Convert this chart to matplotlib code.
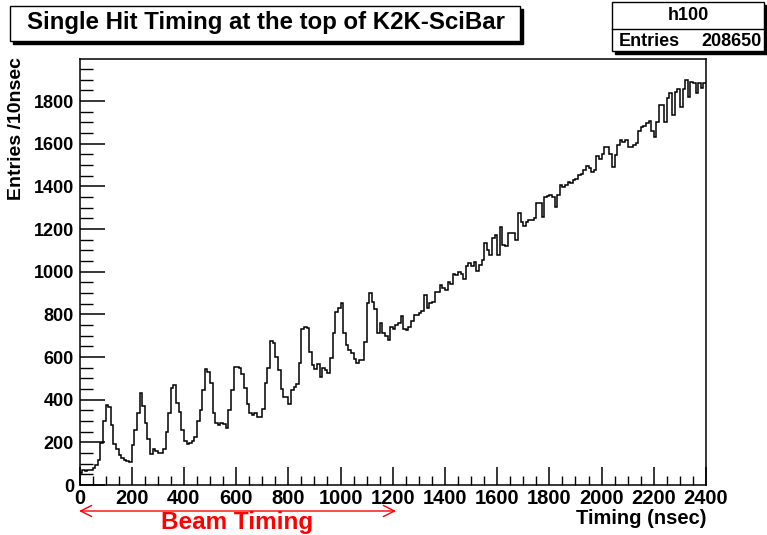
import numpy as np
import matplotlib
matplotlib.use("Agg")
import matplotlib.pyplot as plt
from matplotlib.patches import Rectangle, FancyArrowPatch

plt.rcParams['font.family'] = ['Liberation Sans', 'DejaVu Sans']
plt.rcParams['font.weight'] = 'bold'

# 10 nsec bins from 0 to 2400 nsec
bin_edges = np.arange(0, 2410, 10)
counts = [
    58, 70, 65, 70, 72, 80, 95, 115, 195, 300,
    375, 365, 280, 190, 170, 140, 125, 118, 112, 108,
    189, 257, 336, 430, 370, 290, 215, 145, 170, 160,
    150, 150, 170, 249, 336, 455, 470, 385, 340, 260,
    205, 190, 195, 205, 225, 300, 350, 445, 545, 530,
    480, 336, 290, 280, 290, 285, 265, 350, 445, 555,
    555, 550, 520, 453, 380, 336, 330, 336, 320, 318,
    355, 477, 547, 675, 665, 602, 539, 448, 414, 414,
    380, 445, 460, 472, 570, 730, 742, 735, 625, 563,
    545, 565, 508, 547, 540, 525, 594, 711, 813, 828,
    852, 711, 656, 633, 620, 589, 574, 585, 585, 672,
    852, 898, 860, 824, 711, 761, 711, 699, 678, 742,
    730, 750, 760, 790, 731, 725, 740, 770, 795, 797,
    805, 815, 891, 828, 855, 858, 907, 907, 938, 922,
    915, 950, 940, 989, 985, 997, 990, 966, 1028, 1041,
    1025, 1047, 1005, 1030, 1055, 1133, 1102, 1078, 1156, 1172,
    1078, 1211, 1125, 1120, 1180, 1180, 1180, 1148, 1274, 1235,
    1214, 1235, 1240, 1240, 1250, 1320, 1320, 1258, 1351, 1355,
    1360, 1350, 1305, 1360, 1406, 1398, 1406, 1422, 1415, 1430,
    1435, 1453, 1460, 1477, 1495, 1484, 1469, 1475, 1540, 1530,
    1550, 1583, 1583, 1550, 1492, 1547, 1594, 1617, 1610, 1617,
    1583, 1586, 1594, 1605, 1660, 1680, 1682, 1695, 1706, 1660,
    1630, 1703, 1781, 1781, 1703, 1813, 1836, 1734, 1844, 1855,
    1774, 1855, 1899, 1820, 1891, 1885, 1836, 1885, 1860, 1883,
]

title = "Single Hit Timing at the top of K2K-SciBar"
hist_name = "h100"
n_entries = "208650"

W, H = 767, 535
fig = plt.figure(figsize=(W / 100, H / 100), dpi=100)


def fx(px):
    return px / W


def fy(py):
    return 1 - py / H


ax = fig.add_axes([fx(79.5), fy(485), fx(706) - fx(79.5), fy(59) - fy(485)])
ax.stairs(counts, bin_edges, color='black', lw=1.1, baseline=None)
ax.set_xlim(0, 2400)
ax.set_ylim(0, 1997)

ax.set_xticks(np.arange(0, 2401, 200))
ax.set_xticks(np.arange(0, 2401, 50), minor=True)
ax.set_yticks(np.arange(0, 1801, 200))
ax.set_yticks(np.arange(0, 1951, 50), minor=True)
ax.tick_params(axis='x', which='major', direction='in', length=13, width=1.1, labelsize=14.5, pad=3)
ax.tick_params(axis='x', which='minor', direction='in', length=6.5, width=1)
ax.tick_params(axis='y', which='major', direction='in', length=18, width=1.1, labelsize=13, pad=4)
ax.tick_params(axis='y', which='minor', direction='in', length=9, width=1)
for lab in ax.get_xticklabels() + ax.get_yticklabels():
    lab.set_fontweight('bold')
for s in ax.spines.values():
    s.set_linewidth(1.1)

fig.text(fx(17), fy(57), "Entries /10nsec", rotation=90, ha='center', va='top',
         fontsize=14, fontweight='bold')
fig.text(fx(707), fy(519), "Timing (nsec)", ha='right', va='center',
         fontsize=14.5, fontweight='bold')

# title box with shadow
sh = 3
fig.patches.append(Rectangle((fx(10 + sh), fy(41 + sh)), fx(520) - fx(10), fy(6) - fy(41),
                             transform=fig.transFigure, facecolor='black', edgecolor='black'))
fig.patches.append(Rectangle((fx(10), fy(41)), fx(520) - fx(10), fy(6) - fy(41),
                             transform=fig.transFigure, facecolor='white', edgecolor='black', lw=1))
fig.text(fx(266), fy(23), title, ha='center', va='center', fontsize=17.3, fontweight='bold')

# stats box with shadow
fig.patches.append(Rectangle((fx(612 + sh), fy(51 + sh)), fx(764) - fx(612), fy(2) - fy(51),
                             transform=fig.transFigure, facecolor='black', edgecolor='black'))
fig.patches.append(Rectangle((fx(612), fy(51)), fx(764) - fx(612), fy(2) - fy(51),
                             transform=fig.transFigure, facecolor='white', edgecolor='black', lw=1))
fig.lines.append(plt.Line2D([fx(612), fx(764)], [fy(29), fy(29)], transform=fig.transFigure,
                            color='black', lw=1))
fig.text(fx(688), fy(16), hist_name, ha='center', va='center', fontsize=13, fontweight='bold')
fig.text(fx(619), fy(41), "Entries", ha='left', va='center', fontsize=13, fontweight='bold')
fig.text(fx(762), fy(41), n_entries, ha='right', va='center', fontsize=13, fontweight='bold')

# beam timing arrow
arrow = FancyArrowPatch((fx(79), fy(511)), (fx(396), fy(511)), transform=fig.transFigure,
                        arrowstyle='<->,head_length=8,head_width=4', color='red', lw=1,
                        shrinkA=0, shrinkB=0)
fig.patches.append(arrow)
fig.text(fx(237), fy(523), "Beam Timing", ha='center', va='center', fontsize=17.5,
         fontweight='bold', color='red')

fig.savefig("out.png", dpi=100)
